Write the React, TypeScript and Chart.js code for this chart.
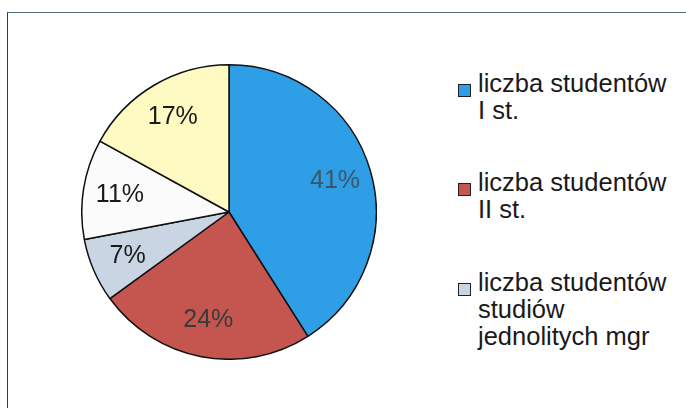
import React, { useEffect, useRef } from "react";
import { Chart, registerables } from "chart.js";

Chart.register(...registerables);

const categories = [
  "liczba studentów I st.",
  "liczba studentów II st.",
  "liczba studentów studiów jednolitych mgr",
  "pozostali 1",
  "pozostali 2",
];
const values = [41, 24, 7, 11, 17];
const sliceColors = ["#2E9FE6", "#C4554F", "#C9D5E3", "#FBFBFB", "#FFF9C2"];
const labelColors = ["#3C5666", "#3A3A3A", "#1A1A1A", "#1A1A1A", "#1A1A1A"];
const legendLines = [
  ["liczba studentów", "I st."],
  ["liczba studentów", "II st."],
  ["liczba studentów", "studiów", "jednolitych mgr"],
];
const legendTops = [70, 169, 269];

const FONT = "'Liberation Sans', Arial, 'DejaVu Sans', sans-serif";

const pctLabels = {
  id: "pctLabels",
  afterDatasetsDraw(chart: any) {
    const ctx = chart.ctx;
    const meta = chart.getDatasetMeta(0);
    const data = chart.data.datasets[0].data as number[];
    ctx.save();
    ctx.font = `25px ${FONT}`;
    ctx.textAlign = "center";
    ctx.textBaseline = "middle";
    meta.data.forEach((arc: any, i: number) => {
      const { x, y, startAngle, endAngle, outerRadius } = arc.getProps(
        ["x", "y", "startAngle", "endAngle", "outerRadius"],
        true
      );
      const mid = (startAngle + endAngle) / 2;
      const r = outerRadius * 0.75;
      ctx.fillStyle = labelColors[i];
      ctx.fillText(`${data[i]}%`, x + Math.cos(mid) * r, y + Math.sin(mid) * r);
    });
    ctx.restore();
  },
};

export default function App() {
  const ref = useRef<HTMLCanvasElement | null>(null);
  useEffect(() => {
    if (!ref.current) return;
    const chart = new Chart(ref.current, {
      type: "pie",
      data: {
        labels: categories,
        datasets: [
          {
            data: values,
            backgroundColor: sliceColors,
            borderColor: "#111111",
            borderWidth: 1.5,
            hoverOffset: 0,
            offset: 0,
          },
        ],
      },
      options: {
        animation: false,
        responsive: false,
        maintainAspectRatio: false,
        layout: { padding: 0 },
        plugins: {
          legend: { display: false },
          tooltip: { enabled: false },
        },
      },
      plugins: [pctLabels],
    });
    return () => chart.destroy();
  }, []);

  return (
    <div
      style={{
        position: "fixed",
        left: 0,
        top: 0,
        width: 686,
        height: 408,
        background: "#ffffff",
        overflow: "hidden",
        fontFamily: FONT,
      }}
    >
      <div
        style={{
          position: "absolute",
          left: 7,
          top: 12,
          width: 700,
          height: 420,
          borderTop: "1.5px solid #4F6B78",
          borderLeft: "1.5px solid #3A3A3A",
        }}
      />
      <canvas
        ref={ref}
        width={296}
        height={296}
        style={{ position: "absolute", left: 81, top: 64, width: 296, height: 296 }}
      />
      {legendLines.map((lines, i) => (
        <div
          key={i}
          style={{
            position: "absolute",
            left: 458,
            top: legendTops[i],
            display: "flex",
            alignItems: "flex-start",
          }}
        >
          <div
            style={{
              width: 11,
              height: 11,
              marginTop: 14,
              background: sliceColors[i],
              border: "1.5px solid #222",
              flex: "none",
            }}
          />
          <div
            style={{
              marginLeft: 7,
              fontSize: 25.5,
              lineHeight: "27px",
              color: "#1A1A1A",
              whiteSpace: "nowrap",
            }}
          >
            {lines.map((l, j) => (
              <div key={j}>{l}</div>
            ))}
          </div>
        </div>
      ))}
    </div>
  );
}
